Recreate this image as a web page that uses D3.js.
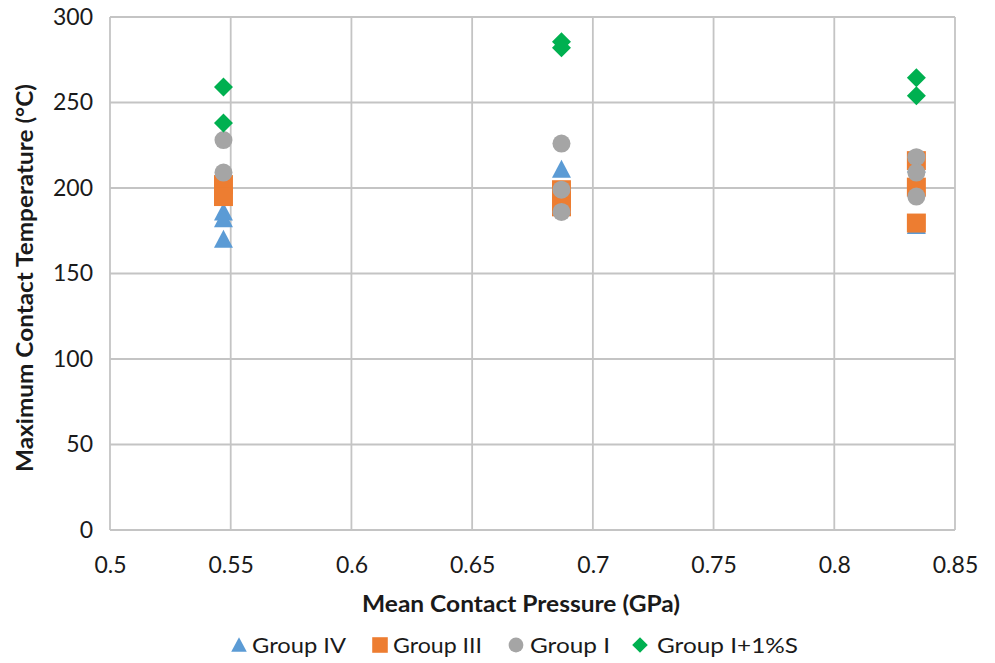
<!DOCTYPE html>
<html>
<head>
<meta charset="utf-8">
<script src="https://cdn.jsdelivr.net/npm/d3@7"></script>
<style>
  body { margin: 0; background: #fff; }
  svg text { font-family: Lato, "Open Sans", sans-serif; fill: #1a1a1a; }
</style>
</head>
<body>
<svg id="chart" width="995" height="663"></svg>
<script>
// values
const xTicks = [0.5, 0.55, 0.6, 0.65, 0.7, 0.75, 0.8, 0.85];
const yTicks = [0, 50, 100, 150, 200, 250, 300];

const groupIV   = [[0.547, 186], [0.547, 182], [0.547, 170], [0.687, 211], [0.834, 214], [0.834, 178]];
const groupIII  = [[0.547, 202], [0.547, 195], [0.687, 199], [0.687, 194], [0.687, 189], [0.834, 216], [0.834, 200.5], [0.834, 179.5]];
const groupI    = [[0.547, 228], [0.547, 209], [0.687, 226], [0.687, 199], [0.687, 186], [0.834, 218], [0.834, 209], [0.834, 195]];
const groupI1S  = [[0.547, 259], [0.547, 238], [0.687, 285.5], [0.687, 282], [0.834, 264.5], [0.834, 254]];

// marker shapes, sized like the spreadsheet markers (w = width in px)
const triangle = {draw(ctx, w) { ctx.moveTo(0, -w / 2); ctx.lineTo(w / 2, w / 2 - 1); ctx.lineTo(-w / 2, w / 2 - 1); ctx.closePath(); }};
const square   = {draw(ctx, w) { ctx.rect(-w / 2, -w / 2, w, w); }};
const circle   = {draw(ctx, w) { ctx.arc(0, 0, w / 2, 0, 2 * Math.PI); }};
const diamond  = {draw(ctx, w) { ctx.moveTo(0, -w / 2); ctx.lineTo(w / 2, 0); ctx.lineTo(0, w / 2); ctx.lineTo(-w / 2, 0); ctx.closePath(); }};

const series = [
  {name: "Group IV",    data: groupIV,  color: "#5B9BD5", shape: triangle, size: 19, legendW: 94},
  {name: "Group III",   data: groupIII, color: "#ED7D31", shape: square,   size: 19, legendW: 89},
  {name: "Group I",     data: groupI,   color: "#A5A5A5", shape: circle,   size: 18, legendW: 80},
  {name: "Group I+1%S", data: groupI1S, color: "#00B050", shape: diamond,  size: 19, legendW: 141}
];

const svg = d3.select("#chart");
const margin = {top: 17, right: 40, bottom: 133, left: 110};
const width = 995 - margin.left - margin.right;
const height = 663 - margin.top - margin.bottom;

const x = d3.scaleLinear().domain([0.5, 0.85]).range([0, width]);
const y = d3.scaleLinear().domain([0, 300]).range([height, 0]);

const g = svg.append("g").attr("transform", "translate(" + margin.left + "," + margin.top + ")");

// gridlines
g.selectAll(".vgrid").data(xTicks).enter().append("line")
  .attr("x1", d => x(d)).attr("x2", d => x(d))
  .attr("y1", 0).attr("y2", height)
  .attr("stroke", "#c4c4c4").attr("stroke-width", 1.8);
g.selectAll(".hgrid").data(yTicks).enter().append("line")
  .attr("x1", 0).attr("x2", width)
  .attr("y1", d => y(d)).attr("y2", d => y(d))
  .attr("stroke", "#c4c4c4").attr("stroke-width", 1.8);

// axes (labels only)
const xAxis = g.append("g").attr("transform", "translate(0," + height + ")")
  .call(d3.axisBottom(x).tickValues(xTicks).tickFormat(d3.format("")).tickSize(0));
xAxis.selectAll("text").attr("y", 43).attr("dy", 0);
const yAxis = g.append("g")
  .call(d3.axisLeft(y).tickValues(yTicks).tickSize(0).tickPadding(17));
[xAxis, yAxis].forEach(a => {
  a.select(".domain").remove();
  a.selectAll("text").style("font-size", "23px").attr("fill", "#1a1a1a")
    .style("font-family", "Lato, 'Open Sans', sans-serif");
});

// points
series.forEach(s => {
  g.selectAll(null).data(s.data).enter().append("path")
    .attr("d", d3.symbol().type(s.shape).size(s.size))
    .attr("transform", d => "translate(" + x(d[0]) + "," + y(d[1]) + ")")
    .attr("fill", s.color);
});

// axis titles
svg.append("text")
  .attr("x", 521).attr("y", 612)
  .attr("text-anchor", "middle")
  .attr("textLength", 318).attr("lengthAdjust", "spacingAndGlyphs")
  .style("font-size", "23px").style("font-weight", "bold")
  .text("Mean Contact Pressure (GPa)");
svg.append("text")
  .attr("transform", "translate(33,278) rotate(-90)")
  .attr("text-anchor", "middle")
  .attr("textLength", 388).attr("lengthAdjust", "spacingAndGlyphs")
  .style("font-size", "23px").style("font-weight", "bold")
  .text("Maximum Contact Temperature (°C)");

// legend
const legendX = [239, 380, 516, 640];
const legend = svg.selectAll(".legend").data(series).enter().append("g")
  .attr("transform", (d, i) => "translate(" + legendX[i] + ",645)");
legend.append("path")
  .attr("d", d => d3.symbol().type(d.shape).size(d.size * 0.82)())
  .attr("fill", d => d.color);
legend.append("text")
  .attr("x", (d, i) => [13, 13, 14, 17][i]).attr("y", 8)
  .attr("textLength", d => d.legendW).attr("lengthAdjust", "spacingAndGlyphs")
  .style("font-size", "22px")
  .text(d => d.name);
</script>
</body>
</html>
